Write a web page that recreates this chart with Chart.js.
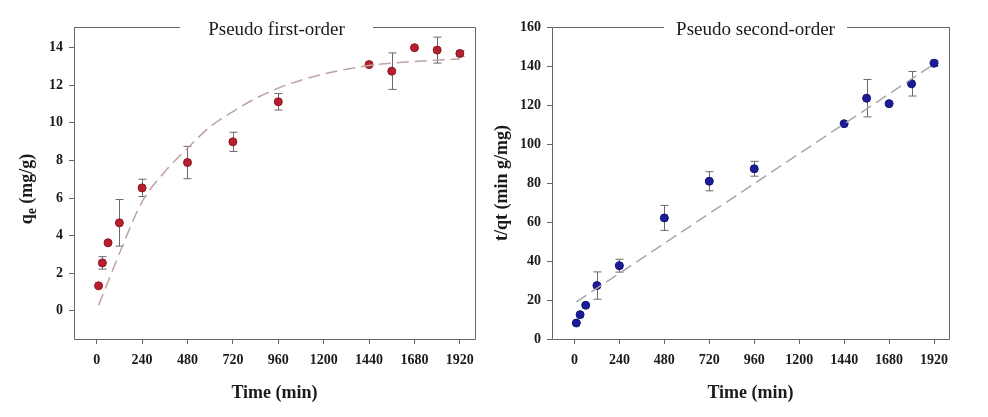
<!DOCTYPE html>
<html>
<head>
<meta charset="utf-8">
<script src="https://cdn.jsdelivr.net/npm/chart.js@4"></script>
<style>
    body { margin: 0; background: #fff; }
    .painel { position: absolute; top: 0; width: 494px; height: 417px; }
</style>
</head>
<body>
<div class="painel" style="left:0"><canvas id="myChartCanvas1" width="494" height="417"></canvas></div>
<div class="painel" style="left:494px"><canvas id="myChartCanvas2" width="494" height="417"></canvas></div>
<script>
// dados
const tempos = [10, 30, 60, 120, 240, 480, 720, 960, 1440, 1560, 1680, 1800, 1920];
const qe = [1.33, 2.55, 3.62, 4.68, 6.54, 7.89, 8.99, 11.12, 13.1, 12.75, 14.0, 13.87, 13.69];
const qeErro = [0, 0.33, 0, 1.24, 0.46, 0.86, 0.51, 0.44, 0, 0.97, 0, 0.69, 0.15];
const tqt = [8.2, 12.5, 17.3, 27.4, 37.6, 62.1, 80.9, 87.3, 110.4, 123.5, 120.7, 130.9, 141.4];
const tqtErro = [0, 0, 0, 7, 3.3, 6.4, 4.9, 3.8, 0, 9.6, 0, 6.3, 1.5];

const tempoFit1 = [10, 60, 120, 240, 360, 480, 600, 720, 840, 960, 1080, 1200, 1320, 1440, 1560, 1680, 1800, 1920];
const qeFit = [0.3, 1.55, 3.05, 5.8, 7.4, 8.65, 9.8, 10.6, 11.3, 11.85, 12.27, 12.6, 12.85, 13.05, 13.18, 13.27, 13.34, 13.4];
const tempoFit2 = [10, 1920];
const tqtFit = [19, 141];

const xTicks = [0, 240, 480, 720, 960, 1200, 1440, 1680, 1920];
const yTicks1 = [0, 2, 4, 6, 8, 10, 12, 14];
const yTicks2 = [0, 20, 40, 60, 80, 100, 120, 140, 160];

const fonte = 'Liberation Serif, Times New Roman, serif';
const corEixo = '#666';

function pares(xs, ys) {
    return xs.map((v, i) => ({ x: v, y: ys[i] }));
}

// moldura com titulo no topo, barras de erro e titulos dos eixos
const moldura = {
    id: 'moldura',
    beforeDatasetsDraw(chart, args, opts) {
        const ctx = chart.ctx;
        const x = chart.scales.x, y = chart.scales.y;
        const pontos = chart.data.datasets[1].data;
        ctx.save();
        ctx.strokeStyle = '#6a6a6a';
        ctx.lineWidth = 1;
        pontos.forEach((p, i) => {
            const e = opts.erros[i];
            if (!e) return;
            const px = Math.round(x.getPixelForValue(p.x)) + 0.5;
            const topo = y.getPixelForValue(p.y + e);
            const base = y.getPixelForValue(p.y - e);
            ctx.beginPath();
            ctx.moveTo(px, topo); ctx.lineTo(px, base);
            ctx.moveTo(px - 4, topo); ctx.lineTo(px + 4, topo);
            ctx.moveTo(px - 4, base); ctx.lineTo(px + 4, base);
            ctx.stroke();
        });
        ctx.restore();
    },
    afterDraw(chart, args, opts) {
        const ctx = chart.ctx;
        const a = chart.chartArea;
        const cx = (a.left + a.right) / 2 + opts.desloc;
        ctx.save();
        ctx.strokeStyle = corEixo;
        ctx.lineWidth = 1;
        const l = Math.round(a.left) + 0.5, r = Math.round(a.right) + 0.5;
        const t = Math.round(a.top) + 0.5, b = Math.round(a.bottom) + 0.5;
        ctx.beginPath();
        ctx.moveTo(cx - opts.vao / 2, t); ctx.lineTo(l, t); ctx.lineTo(l, b);
        ctx.lineTo(r, b); ctx.lineTo(r, t); ctx.lineTo(cx + opts.vao / 2, t);
        ctx.stroke();

        ctx.fillStyle = '#1a1a1a';
        ctx.textAlign = 'center';
        ctx.textBaseline = 'middle';
        ctx.font = '19px ' + fonte;
        ctx.fillText(opts.titulo, cx, a.top + 3);

        ctx.font = 'bold 18px ' + fonte;
        ctx.fillText('Time (min)', (a.left + a.right) / 2, 393);

        // titulo do eixo y (com subscrito opcional)
        ctx.translate(opts.yTituloX, opts.yTituloY);
        ctx.rotate(-Math.PI / 2);
        const partes = opts.yTitulo;
        const fontes = partes.map(p => (p.sub ? 'bold 14px ' : 'bold 18px ') + fonte);
        let total = 0;
        const larguras = partes.map((p, i) => { ctx.font = fontes[i]; const w = ctx.measureText(p.txt).width; total += w; return w; });
        let pos = -total / 2;
        ctx.textAlign = 'left';
        partes.forEach((p, i) => {
            ctx.font = fontes[i];
            ctx.fillText(p.txt, pos, p.sub ? 5 : 0);
            pos += larguras[i];
        });
        ctx.restore();
    }
};

function criarGrafico(idGrafico, cfg) {
    const config = {
        data: {
            datasets: [{
                type: 'line',
                data: pares(cfg.fitX, cfg.fitY),
                borderColor: cfg.corFit,
                borderWidth: 1.5,
                borderDash: [12, 6],
                pointRadius: 0,
                cubicInterpolationMode: 'monotone',
                fill: false
            }, {
                type: 'scatter',
                data: pares(tempos, cfg.valores),
                backgroundColor: cfg.corPonto,
                borderColor: cfg.bordaPonto,
                borderWidth: 1,
                pointRadius: 4,
                showLine: false
            }]
        },
        options: {
            responsive: false,
            animation: false,
            layout: { padding: { left: 0, right: cfg.padDir, top: 27, bottom: 0 } },
            scales: {
                x: {
                    type: 'linear',
                    min: -120,
                    max: 2000,
                    afterBuildTicks: s => { s.ticks = xTicks.map(v => ({ value: v })); },
                    afterFit: s => { s.height = 78; },
                    grid: { drawOnChartArea: false, drawTicks: true, tickLength: 5, color: corEixo },
                    border: { display: false },
                    ticks: {
                        padding: 8,
                        color: '#1a1a1a',
                        maxRotation: 0,
                        callback: v => String(v),
                        font: { family: fonte, size: 14, weight: 'bold' }
                    }
                },
                y: {
                    type: 'linear',
                    min: cfg.yMin,
                    max: cfg.yMax,
                    afterBuildTicks: s => { s.ticks = cfg.yTicks.map(v => ({ value: v })); },
                    afterFit: s => { s.width = cfg.larguraY; },
                    grid: { drawOnChartArea: false, drawTicks: true, tickLength: 5, color: corEixo },
                    border: { display: false },
                    ticks: {
                        padding: 6,
                        color: '#1a1a1a',
                        callback: v => String(v),
                        font: { family: fonte, size: 14, weight: 'bold' }
                    }
                }
            },
            plugins: {
                legend: { display: false },
                tooltip: { enabled: false },
                moldura: {
                    titulo: cfg.titulo,
                    vao: cfg.vao,
                    desloc: cfg.desloc,
                    erros: cfg.erros,
                    yTitulo: cfg.yTitulo,
                    yTituloX: cfg.yTituloX,
                    yTituloY: cfg.yTituloY
                }
            }
        },
        plugins: [moldura]
    };

    new Chart(document.getElementById(`myChartCanvas${idGrafico}`), config);
}

criarGrafico(1, {
    titulo: 'Pseudo first-order',
    fitX: tempoFit1, fitY: qeFit,
    valores: qe, erros: qeErro,
    corFit: '#bfa3a3', corPonto: '#b51f2e', bordaPonto: '#8c1620',
    yMin: -1.5, yMax: 15.1, yTicks: yTicks1,
    larguraY: 74, padDir: 19,
    vao: 193, desloc: 2,
    yTitulo: [{ txt: 'q' }, { txt: 'e', sub: true }, { txt: ' (mg/g)' }],
    yTituloX: 27, yTituloY: 189
});

criarGrafico(2, {
    titulo: 'Pseudo second-order',
    fitX: tempoFit2, fitY: tqtFit,
    valores: tqt, erros: tqtErro,
    corFit: '#a8a8a8', corPonto: '#1c1c9a', bordaPonto: '#121270',
    yMin: 0, yMax: 160, yTicks: yTicks2,
    larguraY: 58, padDir: 39,
    vao: 183, desloc: 5,
    yTitulo: [{ txt: 't/qt (min g/mg)' }],
    yTituloX: 8, yTituloY: 183
});
</script>
</body>
</html>
